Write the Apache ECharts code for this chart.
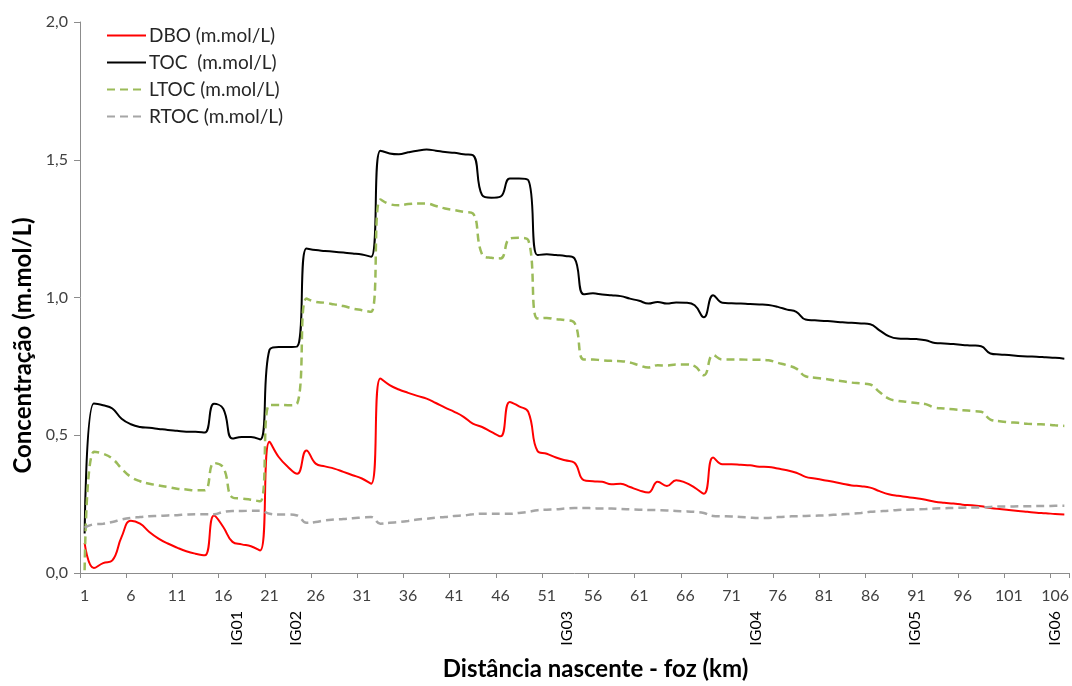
<!DOCTYPE html>
<html>
<head>
<meta charset="utf-8">
<script src="https://cdn.jsdelivr.net/npm/echarts@6/dist/echarts.min.js"></script>
<style>
html,body{margin:0;padding:0;background:#fff;}
#chart{width:1072px;height:686px;}
</style>
</head>
<body>
<div id="chart"></div>
<script>
// Categories: distance nascente - foz (km)
const categories = [];
for (let i = 1; i <= 107; i++) categories.push(String(i));

const dbo = [0.109,0.018,0.036,0.046,0.131,0.190,0.179,0.149,0.125,0.107,
0.092,0.079,0.070,0.064,0.209,0.167,0.113,0.104,0.097,0.082,
0.476,0.421,0.385,0.360,0.445,0.397,0.387,0.379,0.367,0.355,
0.343,0.324,0.706,0.682,0.666,0.654,0.643,0.633,0.617,0.600,
0.585,0.567,0.542,0.530,0.512,0.496,0.621,0.605,0.585,0.443,
0.433,0.419,0.409,0.400,0.337,0.333,0.331,0.322,0.324,0.312,
0.300,0.292,0.331,0.316,0.337,0.328,0.310,0.288,0.419,0.395,
0.395,0.393,0.391,0.386,0.385,0.379,0.373,0.364,0.349,0.343,
0.337,0.331,0.324,0.318,0.315,0.310,0.297,0.286,0.280,0.276,
0.271,0.266,0.259,0.255,0.252,0.248,0.246,0.242,0.236,0.232,
0.229,0.225,0.222,0.219,0.217,0.214,0.212];

const toc = [0.143,0.615,0.609,0.597,0.560,0.540,0.530,0.527,0.523,0.519,
0.516,0.513,0.513,0.510,0.614,0.596,0.488,0.494,0.494,0.485,
0.810,0.820,0.820,0.822,1.178,1.172,1.169,1.166,1.163,1.160,
1.156,1.148,1.533,1.523,1.520,1.527,1.533,1.537,1.533,1.528,
1.525,1.520,1.517,1.372,1.362,1.366,1.432,1.432,1.426,1.154,
1.157,1.154,1.151,1.142,1.012,1.015,1.011,1.008,1.005,0.996,
0.988,0.978,0.984,0.978,0.982,0.981,0.972,0.928,1.008,0.981,
0.979,0.978,0.976,0.975,0.973,0.966,0.956,0.948,0.920,0.917,
0.915,0.913,0.910,0.908,0.906,0.903,0.881,0.860,0.851,0.850,
0.849,0.845,0.835,0.833,0.831,0.828,0.826,0.823,0.797,0.793,
0.791,0.788,0.786,0.785,0.783,0.781,0.778];

const ltoc = [0.010,0.440,0.433,0.415,0.379,0.349,0.333,0.324,0.318,0.312,
0.306,0.303,0.300,0.300,0.399,0.383,0.274,0.270,0.266,0.260,
0.610,0.610,0.609,0.615,0.996,0.984,0.981,0.975,0.969,0.960,
0.954,0.948,1.356,1.339,1.335,1.339,1.341,1.341,1.332,1.323,
1.317,1.311,1.305,1.157,1.144,1.142,1.214,1.217,1.208,0.924,
0.926,0.921,0.918,0.908,0.775,0.775,0.772,0.770,0.769,0.764,
0.754,0.746,0.754,0.753,0.757,0.757,0.751,0.718,0.791,0.775,
0.775,0.775,0.774,0.774,0.772,0.763,0.754,0.742,0.714,0.709,
0.705,0.700,0.696,0.691,0.688,0.684,0.657,0.633,0.625,0.621,
0.617,0.613,0.600,0.597,0.594,0.591,0.588,0.585,0.557,0.551,
0.547,0.545,0.542,0.540,0.539,0.536,0.534];

const rtoc = [0.165,0.177,0.179,0.185,0.194,0.200,0.203,0.206,0.207,0.209,
0.210,0.212,0.213,0.213,0.213,0.222,0.225,0.225,0.226,0.226,
0.215,0.212,0.212,0.209,0.182,0.185,0.191,0.194,0.196,0.199,
0.201,0.203,0.179,0.182,0.185,0.189,0.194,0.197,0.201,0.203,
0.207,0.209,0.213,0.215,0.215,0.215,0.215,0.218,0.222,0.228,
0.230,0.231,0.234,0.236,0.236,0.235,0.234,0.234,0.232,0.231,
0.230,0.229,0.228,0.227,0.225,0.224,0.222,0.218,0.207,0.206,
0.205,0.203,0.201,0.200,0.200,0.203,0.205,0.206,0.207,0.208,
0.209,0.211,0.213,0.215,0.218,0.222,0.224,0.226,0.229,0.230,
0.231,0.232,0.234,0.235,0.236,0.237,0.238,0.238,0.240,0.241,
0.241,0.242,0.242,0.243,0.243,0.244,0.244];

// Monitoring station labels and their positions along the category axis
const igNames = ['IG01','IG02','IG03','IG04','IG05','IG06'];
const igPositions = [17.5, 23.9, 53.2, 73.6, 90.8, 106.0];

const yTicks = [0, 0.5, 1.0, 1.5, 2.0];

const seriesNames = ['DBO (m.mol/L)','TOC  (m.mol/L)','LTOC (m.mol/L)','RTOC (m.mol/L)'];

const FONT = 'Lato';
const chart = echarts.init(document.getElementById('chart'), null, {renderer:'canvas'});

function mk(name, data, color, dashed, width) {
  return {
    name: name, type: 'line', data: data, xAxisIndex: 0, yAxisIndex: 0,
    symbol: 'none', smooth: 0.45,
    lineStyle: {color: color, width: width, type: dashed ? [8,5] : 'solid'},
    itemStyle: {color: color},
    emphasis: {disabled: true}, animation: false
  };
}

chart.setOption({
  animation: false,
  backgroundColor: '#fff',
  grid: {left: 80, right: 1, top: 22, bottom: 113, containLabel: false},
  legend: {
    orient: 'vertical', left: 101, top: 21,
    itemWidth: 39, itemHeight: 14, itemGap: 8,
    data: seriesNames,
    itemStyle: {opacity: 0},
    textStyle: {fontFamily: FONT, fontSize: 19, color: '#262626', padding: [0, 0, 0, -2]}
  },
  xAxis: [{
    type: 'category', data: categories, boundaryGap: true,
    axisLine: {lineStyle: {color: '#8c8c8c', width: 1}},
    axisTick: {show: true, interval: 4, length: 5, lineStyle: {color: '#8c8c8c'}},
    axisLabel: {interval: 4, margin: 15, fontFamily: FONT, fontSize: 16, color: '#404040'},
    splitLine: {show: false},
    name: 'Distância nascente - foz (km)', nameLocation: 'middle', nameGap: 84,
    nameTextStyle: {fontFamily: FONT, fontSize: 24, fontWeight: 'bold', color: '#000', padding: [0, 0, 0, 42]}
  }, {
    type: 'value', min: 0.5, max: 107.5, position: 'bottom', offset: 30,
    axisLine: {show: false}, axisTick: {show: false}, splitLine: {show: false},
    axisLabel: {
      rotate: 90, margin: 8, fontFamily: FONT, fontSize: 16, color: '#000',
      customValues: igPositions,
      formatter: function (v) {
        const i = igPositions.indexOf(v);
        return i >= 0 ? igNames[i] : '';
      }
    }
  }],
  yAxis: {
    type: 'value', min: yTicks[0], max: yTicks[yTicks.length - 1], interval: 0.5,
    axisLine: {show: true, lineStyle: {color: '#8c8c8c', width: 1}},
    axisTick: {show: true, length: 6, lineStyle: {color: '#8c8c8c'}},
    axisLabel: {margin: 12, fontFamily: FONT, fontSize: 16, color: '#404040',
      formatter: function (v) { return v.toFixed(1).replace('.', ','); }},
    splitLine: {show: false},
    name: 'Concentração (m.mol/L)', nameLocation: 'middle', nameGap: 44,
    nameTextStyle: {fontFamily: FONT, fontSize: 24, fontWeight: 'bold', color: '#000', padding: [0, 96, 0, 0]}
  },
  series: [
    mk(seriesNames[0], dbo, '#ff0000', false, 2),
    mk(seriesNames[1], toc, '#000000', false, 2),
    mk(seriesNames[2], ltoc, '#9bbb59', true, 2.5),
    mk(seriesNames[3], rtoc, '#a6a6a6', true, 2.5)
  ]
});
</script>
</body>
</html>
